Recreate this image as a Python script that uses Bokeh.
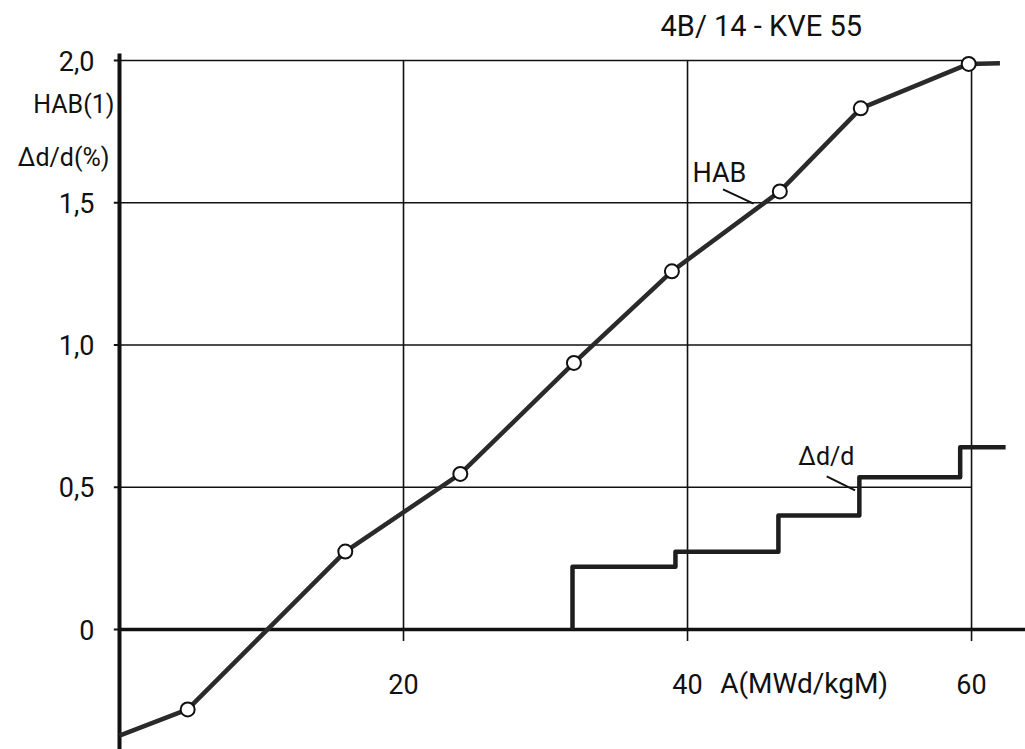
from bokeh.plotting import figure
from bokeh.models import Range1d
from bokeh.embed import file_html
from bokeh.resources import INLINE
from bokeh.core.properties import value

# HAB(1) against burnup A (MWd/kgM)
hab_start = (0.0, -0.373)
hab_pts_x = [4.8, 15.9, 24.0, 32.0, 38.9, 46.5, 52.2, 59.8]
hab_pts_y = [-0.281, 0.274, 0.547, 0.937, 1.259, 1.540, 1.832, 1.988]
hab_end = (62.0, 1.990)

# diameter change dd/d (%) as a staircase
dd_x = [31.9, 31.9, 39.15, 46.4, 52.1, 59.2, 62.4]
dd_y = [0.0, 0.221, 0.273, 0.401, 0.535, 0.641, 0.641]

x_ticks = [20, 40, 60]
x_tick_labels = ["20", "40", "60"]
y_ticks = [0.0, 0.5, 1.0, 1.5, 2.0]
y_tick_labels = ["0", "0,5", "1,0", "1,5", "2,0"]

title_text = "4B/ 14 - KVE 55"
x_title = "A(MWd/kgM)"
y_title_1 = "HAB(1)"
y_title_2 = "Δd/d(%)"

FONT = value("Roboto")
INK = "#111111"

x_lo, x_hi = -8.38, 63.8
y_lo, y_hi = -0.4218, 2.211

p = figure(width=1025, height=749, x_range=Range1d(x_lo, x_hi), y_range=Range1d(y_lo, y_hi),
           x_axis_location=None, y_axis_location=None, toolbar_location=None,
           output_backend="svg", min_border=0, outline_line_color=None)
p.grid.visible = False
p.background_fill_color = "white"
p.border_fill_color = "white"

# grid
grid_top = y_ticks[-1]
grid_right = x_ticks[-1]
hy = [y for y in y_ticks if y > 0]
p.segment(x0=[0] * len(hy), y0=hy, x1=[grid_right] * len(hy), y1=hy, line_color=INK, line_width=1.6)
p.segment(x0=x_ticks, y0=[-0.04] * len(x_ticks), x1=x_ticks, y1=[grid_top] * len(x_ticks),
          line_color=INK, line_width=1.6)

# axes
p.segment(x0=[0], y0=[0], x1=[x_hi], y1=[0], line_color=INK, line_width=3.5)
p.segment(x0=[0], y0=[y_lo], x1=[0], y1=[2.025], line_color=INK, line_width=4)
p.segment(x0=[-0.4] * len(y_ticks), y0=y_ticks, x1=[0] * len(y_ticks), y1=y_ticks,
          line_color=INK, line_width=2)

# tick labels
p.text(x=[0] * len(y_ticks), y=y_ticks, text=y_tick_labels, x_offset=-25,
       text_align="right", text_baseline="middle", text_font=FONT,
       text_font_size="27px", text_color=INK)
p.text(x=x_ticks, y=[0] * len(x_ticks), text=x_tick_labels, y_offset=54,
       text_align="center", text_baseline="middle", text_font=FONT,
       text_font_size="27px", text_color=INK)
p.text(x=[42.3], y=[0], text=[x_title], y_offset=54, text_align="left",
       text_baseline="middle", text_font=FONT, text_font_size="28px", text_color=INK)
p.text(x=[0, 0], y=[1.845, 1.659], text=[y_title_1, y_title_2], x_offset=[-5, -10],
       text_align="right", text_baseline="middle", text_font=FONT,
       text_font_size="25px", text_color=INK)
p.text(x=[38.1], y=[2.123], text=[title_text], text_align="left", text_baseline="middle",
       text_font=FONT, text_font_size="29px", text_color=INK)

# HAB curve
hab_x = [hab_start[0]] + hab_pts_x + [hab_end[0]]
hab_y = [hab_start[1]] + hab_pts_y + [hab_end[1]]
p.line(hab_x, hab_y, line_color="#2a2a2a", line_width=4.5, line_join="round")
p.scatter(hab_pts_x, hab_pts_y, size=14, fill_color="white", line_color=INK, line_width=2)

# dd/d staircase
p.step(dd_x, dd_y, mode="after", line_color="#1e1e1e", line_width=4.5, line_join="round")

# curve labels with leader strokes
p.text(x=[40.35], y=[1.603], text=["HAB"], text_align="left", text_baseline="middle",
       text_font=FONT, text_font_size="27px", text_color=INK)
p.segment(x0=[42.5], y0=[1.547], x1=[44.65], y1=[1.497], line_color=INK, line_width=2)
p.text(x=[47.8], y=[0.608], text=["Δd/d"], text_align="left", text_baseline="middle",
       text_font=FONT, text_font_size="25px", text_color=INK)
p.segment(x0=[49.8], y0=[0.538], x1=[51.8], y1=[0.489], line_color=INK, line_width=2)

open("out.html", "w").write(file_html(p, INLINE))
